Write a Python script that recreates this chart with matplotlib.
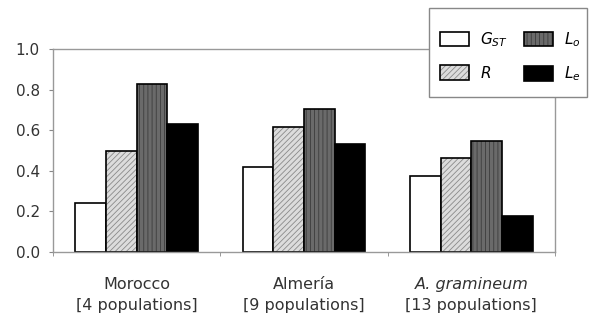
import matplotlib.pyplot as plt
import matplotlib.patches as mpatches
import matplotlib.transforms as mtransforms
from matplotlib.colors import to_rgba
import numpy as np

plt.rcParams['font.family'] = 'DejaVu Sans'
plt.rcParams['mathtext.fontset'] = 'dejavusans'
plt.rcParams['mathtext.default'] = 'it'
plt.rcParams['hatch.linewidth'] = 0.6

cat_names = ["Morocco", "Almería", "A. gramineum"]
cat_sizes = ["[4 populations]", "[9 populations]", "[13 populations]"]
gst = [0.243, 0.419, 0.373]
r_vals = [0.50, 0.617, 0.462]
lo = [0.826, 0.703, 0.548]
le = [0.63, 0.532, 0.177]
series_labels = [r"$G_{ST}$", r"$R$", r"$L_o$", r"$L_e$"]

fig = plt.figure(figsize=(5.89, 3.2), dpi=100)
ax = fig.add_axes([53/589, 1-252/320, (555-53)/589, (252-49)/320])

x = np.arange(len(cat_names))
w = 0.183
styles = [
    dict(facecolor='white', hatch=None, hc=None),
    dict(facecolor='#dcdcdc', hatch='//////', hc='#8a8a8a'),
    dict(facecolor='#6a6a6a', hatch='||||', hc='#3c3c3c'),
    dict(facecolor='black', hatch=None, hc=None),
]
handles = []
for i, (vals, st, lab) in enumerate(zip([gst, r_vals, lo, le], styles, series_labels)):
    bars = ax.bar(x + (i - 1.5) * w, vals, width=w, facecolor=st['facecolor'],
                  edgecolor='black', linewidth=1.2, hatch=st['hatch'], label=lab)
    if st['hc'] is not None:
        for b in bars:
            b._hatch_color = to_rgba(st['hc'])
    handles.append(bars)

ax.set_xlim(-0.5, 2.5)
ax.set_ylim(0, 1.0)
yt = np.arange(0, 1.01, 0.2)
ax.set_yticks(yt)
ax.set_yticklabels([f"{v:.1f}" for v in yt], fontsize=11, color='#333333')
ax.set_xticks(x)
ax.set_xticklabels([])
ax.set_xticks([-0.5, 0.5, 1.5, 2.5], minor=True)
ax.tick_params(axis='x', which='major', length=0)
ax.tick_params(axis='x', which='minor', length=3, color='#888888', direction='out')
ax.tick_params(axis='y', length=3, color='#888888', pad=6.5)
for s in ax.spines.values():
    s.set_color('#999999')
    s.set_linewidth(1.0)

# category labels, two lines each
trans = mtransforms.blended_transform_factory(ax.transData, fig.transFigure)
for xi, name, size in zip(x, cat_names, cat_sizes):
    style = 'italic' if name.startswith('A.') else 'normal'
    ax.text(xi, 1-289/320, name, transform=trans, ha='center', va='baseline',
            fontsize=11.5, fontstyle=style, color='#333333')
    ax.text(xi, 1-310/320, size, transform=trans, ha='center', va='baseline',
            fontsize=11.5, color='#333333')

# legend box drawn separately, legend entries without frame
fig.patches.append(mpatches.Rectangle((429/589, 1-97/320), (587-429)/589, (97-8)/320,
                                      transform=fig.transFigure, facecolor='white',
                                      edgecolor='#888888', linewidth=1.0, zorder=5))
leg = fig.legend(handles=handles, ncol=2, loc='upper left',
                 bbox_to_anchor=(440/589, 1-30/320), fontsize=11,
                 frameon=False, handlelength=1.9, handleheight=1.05, borderpad=0,
                 borderaxespad=0, labelspacing=1.05, columnspacing=1.0,
                 handletextpad=0.75)
leg.set_zorder(6)

fig.savefig("out.png", dpi=100)
